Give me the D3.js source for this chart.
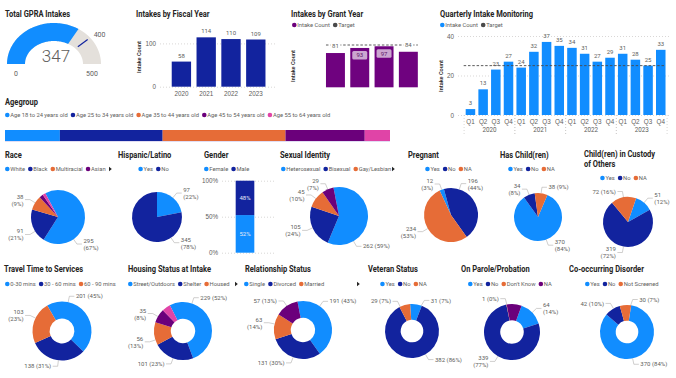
<!DOCTYPE html>
<html>
<head>
<meta charset="utf-8">
<script src="https://cdn.jsdelivr.net/npm/d3@7"></script>
<style>
  body { margin: 0; background: #fff; }
  svg { display: block; font-family: Roboto, "Liberation Sans", sans-serif; }
  .title { font-family: Roboto, sans-serif; font-weight: bold; font-size: 9.4px; fill: #252423; }
  .leg { font-size: 5.8px; fill: #605E5C; }
  .lbl { font-size: 6px; fill: #605E5C; }
  .ytitle { font-size: 5.6px; fill: #252423; font-weight: 500; }
</style>
</head>
<body>
<svg id="chart" width="676" height="378"></svg>
<script>
// ---- data ----
const gaugeValue = 347, gaugeTarget = 400, gaugeMax = 500;

const fiscalYears = ["2020", "2021", "2022", "2023"];
const fiscalCounts = [58, 114, 110, 109];

const grantYears = ["Year 1", "Year 2", "Year 3", "Year 4"];
const grantCounts = [81, 93, 97, 84];
const grantTarget = 100;

const quarterNames = ["Q1", "Q2", "Q3", "Q4"];
const quarterYears = ["2020", "2021", "2022", "2023"];
const quarterCounts = [3, 13, 23, 27, 24, 32, 37, 35, 34, 31, 27, 29, 31, 28, 25, 33];
const quarterTarget = 25;

const ageGroups = ["Age 18 to 24 years old", "Age 25 to 34 years old", "Age 35 to 44 years old", "Age 45 to 54 years old", "Age 55 to 64 years old"];
const ageCounts = [63, 118, 141, 91, 29];

const raceCats = ["White", "Black", "Multiracial", "Asian", "Other"];
const raceCounts = [295, 91, 38, 10, 8];
const hispanicCats = ["Yes", "No"];
const hispanicCounts = [97, 345];
const genderCats = ["Female", "Male"];
const genderCounts = [231, 211];
const sexualCats = ["Heterosexual", "Bisexual", "Gay/Lesbian", "Other"];
const sexualCounts = [262, 105, 45, 29];
const pregnantCats = ["Yes", "No", "NA"];
const pregnantCounts = [12, 196, 234];
const childCats = ["Yes", "No", "NA"];
const childCounts = [370, 34, 38];
const custodyCats = ["Yes", "No", "NA"];
const custodyCounts = [51, 319, 72];

const travelCats = ["0-30 mins", "30 - 60 mins", "60 - 90 mins"];
const travelCounts = [201, 138, 103];
const housingCats = ["Street/Outdoors", "Shelter", "Housed", "Other", "Unknown"];
const housingCounts = [229, 101, 56, 35, 21];
const relationCats = ["Single", "Divorced", "Married", "Other"];
const relationCounts = [191, 131, 63, 57];
const veteranCats = ["Yes", "No", "NA"];
const veteranCounts = [31, 382, 29];
const paroleCats = ["Yes", "No", "Don't Know", "NA"];
const paroleCounts = [64, 339, 1, 38];
const disorderCats = ["Yes", "No", "Not Screened"];
const disorderCounts = [370, 42, 30];

// ---- helpers ----
const svg = d3.select("#chart");
const pal = ["#118DFF", "#12239E", "#E66C37", "#6B007B", "#E044A7"];
const grey = "#605E5C";
const gridCol = "#C8C6C4";

// titles are squeezed a little to look like the narrow dashboard font
function addTitle(x, y, s) {
  return svg.append("text").attr("class", "title")
    .attr("transform", `translate(${x},${y}) scale(0.8,1)`).text(s);
}

function addArrow(x, y) {
  svg.append("path")
    .attr("d", `M${x},${y - 2.2}L${x + 2.8},${y}L${x},${y + 2.2}Z`)
    .attr("fill", "#252423");
}

function addLegend(x, y, names, colors, center) {
  const g = svg.append("g");
  let w = 0;
  names.forEach((n, i) => {
    g.append("circle").attr("cx", w + 2.3).attr("cy", 0).attr("r", 2.3).attr("fill", colors[i]);
    const t = g.append("text").attr("class", "leg").attr("x", w + 5.3).attr("y", 2).text(n);
    w += 5.3 + t.node().getComputedTextLength() + 3;
  });
  g.attr("transform", `translate(${center ? x - w / 2 : x},${y})`);
}

function yAxis(x, scale, ticks, width, fmt) {
  const g = svg.append("g")
    .attr("transform", `translate(${x},0)`)
    .call(d3.axisLeft(scale).tickValues(ticks).tickSize(-width).tickPadding(4).tickFormat(fmt || d3.format("d")));
  g.select(".domain").remove();
  g.selectAll(".tick line").attr("stroke", gridCol).attr("stroke-width", 0.7).attr("stroke-dasharray", "1,2");
  g.selectAll(".tick text").attr("fill", grey).style("font-size", "6.3px");
  return g;
}

function xAxis(y, scale, fmt) {
  const g = svg.append("g")
    .attr("transform", `translate(0,${y})`)
    .call(d3.axisBottom(scale).tickSize(0).tickPadding(4.5).tickFormat(fmt || (d => d)));
  g.select(".domain").remove();
  g.selectAll(".tick text").attr("fill", grey).style("font-size", "6.3px");
  return g;
}

function yTitle(x, y, s) {
  svg.append("text").attr("class", "ytitle")
    .attr("transform", `translate(${x},${y}) rotate(-90)`)
    .attr("text-anchor", "middle").text(s);
}

// ---- gauge ----
addTitle(5, 17, "Total GPRA Intakes");
const gc = [54, 64], gOut = [47, 41], gIn = [29, 23];
const gAngle = d3.scaleLinear().domain([0, gaugeMax]).range([0, Math.PI]);
function gPoint(t, r) {
  const c = -Math.cos(t), s = -Math.sin(t);
  const k = 1 / Math.sqrt(c * c / (r[0] * r[0]) + s * s / (r[1] * r[1]));
  return [gc[0] + c * k, gc[1] + s * k];
}
function gBand(v0, v1) {
  const ts = d3.range(0, 61).map(i => gAngle(v0 + (v1 - v0) * i / 60));
  const pts = ts.map(t => gPoint(t, gOut)).concat(ts.slice().reverse().map(t => gPoint(t, gIn)));
  return d3.line()(pts) + "Z";
}
svg.append("path").attr("d", gBand(0, gaugeMax)).attr("fill", "#E4E0DB");
svg.append("path").attr("d", gBand(0, gaugeValue)).attr("fill", pal[0]);
const tA = gPoint(gAngle(gaugeTarget), [gIn[0] + 3, gIn[1] + 3]);
const tB = gPoint(gAngle(gaugeTarget), [gOut[0] - 3, gOut[1] - 3]);
svg.append("line").attr("x1", tA[0]).attr("y1", tA[1]).attr("x2", tB[0]).attr("y2", tB[1])
  .attr("stroke", pal[1]).attr("stroke-width", 1.2);
svg.append("text").attr("x", gc[0] + 2).attr("y", 62).attr("text-anchor", "middle")
  .style("font-size", "17px").style("font-weight", 300).attr("fill", grey).text(gaugeValue);
svg.append("text").attr("x", gPoint(0, gOut)[0] + 9).attr("y", 75.5).attr("text-anchor", "middle")
  .style("font-size", "7px").attr("fill", grey).text(0);
svg.append("text").attr("x", gPoint(Math.PI, gOut)[0] - 9).attr("y", 75.5).attr("text-anchor", "middle")
  .style("font-size", "7px").attr("fill", grey).text(gaugeMax);
svg.append("text").attr("x", tB[0] + 6).attr("y", 37).style("font-size", "7px").attr("fill", grey).text(gaugeTarget);

// ---- intakes by fiscal year ----
addTitle(136, 17, "Intakes by Fiscal Year");
const fx = d3.scaleBand().domain(fiscalYears).range([169, 268.2]).paddingInner(0.22).paddingOuter(0.11);
const fy = d3.scaleLinear().domain([0, 100]).range([86.7, 43.4]);
yAxis(160, fy, [0, 100], 117);
xAxis(86.7, fx);
yTitle(141, 57, "Intake Count");
svg.append("g").selectAll("rect").data(fiscalCounts).join("rect")
  .attr("x", (d, i) => fx(fiscalYears[i])).attr("width", fx.bandwidth())
  .attr("y", d => fy(d)).attr("height", d => fy(0) - fy(d)).attr("fill", pal[1]);
svg.append("g").selectAll("text").data(fiscalCounts).join("text")
  .attr("x", (d, i) => fx(fiscalYears[i]) + fx.bandwidth() / 2).attr("y", d => fy(d) - 4)
  .attr("text-anchor", "middle").attr("class", "lbl").text(d => d);

// ---- intakes by grant year ----
addTitle(291, 17, "Intakes by Grant Year");
addLegend(292, 25, ["Intake Count", "Target"], [pal[3], "#4A4A4A"]);
svg.append("clipPath").attr("id", "grantClip").append("rect").attr("x", 280).attr("y", 30).attr("width", 139).attr("height", 80);
const gx = d3.scaleBand().domain(grantYears).range([323.3, 420.5]).paddingInner(0.22).paddingOuter(0.11);
const gy = d3.scaleLinear().domain([0, 100]).range([87.3, 45]);
yAxis(315, gy, [0, 50, 100], 110).attr("clip-path", "url(#grantClip)");
xAxis(87.3, gx).attr("clip-path", "url(#grantClip)");
yTitle(295, 66, "Intake Count");
const grantG = svg.append("g").attr("clip-path", "url(#grantClip)");
grantG.selectAll("rect.bar").data(grantCounts).join("rect").attr("class", "bar")
  .attr("x", (d, i) => gx(grantYears[i])).attr("width", gx.bandwidth())
  .attr("y", d => gy(d)).attr("height", d => gy(0) - gy(d)).attr("fill", "#6F027F");
grantG.append("line")
  .attr("x1", gx(grantYears[0])).attr("x2", gx(grantYears[3]) + gx.bandwidth())
  .attr("y1", gy(grantTarget)).attr("y2", gy(grantTarget))
  .attr("stroke", "#4A4A4A").attr("stroke-width", 0.9).attr("stroke-dasharray", "2.5,1.8");
grantCounts.forEach((d, i) => {
  const cx = gx(grantYears[i]) + gx.bandwidth() / 2;
  if (d >= grantTarget * 0.9) {
    grantG.append("rect").attr("x", cx - 7.5).attr("y", gy(d) + 3).attr("width", 15).attr("height", 8.5)
      .attr("rx", 1.5).attr("fill", "#CBA6D0");
    grantG.append("text").attr("x", cx).attr("y", gy(d) + 9.4).attr("text-anchor", "middle")
      .attr("class", "lbl").style("fill", "#5A1466").text(d);
  } else {
    grantG.append("rect").attr("x", cx - 5).attr("y", gy(d) - 10.5).attr("width", 10).attr("height", 7).attr("fill", "#fff");
    grantG.append("text").attr("x", cx).attr("y", gy(d) - 5).attr("text-anchor", "middle").attr("class", "lbl").text(d);
  }
});

// ---- quarterly intake monitoring ----
addTitle(440, 17, "Quarterly Intake Monitoring");
addLegend(440, 25, ["Intake Count", "Target"], [pal[0], "#4A4A4A"]);
const qIdx = d3.range(quarterCounts.length);
const qx = d3.scaleBand().domain(qIdx).range([464.1, 667.1]).paddingInner(0.25).paddingOuter(0.125);
const qy = d3.scaleLinear().domain([0, 40]).range([115, 36]);
yAxis(458, qy, [0, 20, 40], 212);
xAxis(115, qx, i => quarterNames[i % 4]);
yTitle(443, 76, "Intake Count");
svg.append("g").selectAll("rect").data(quarterCounts).join("rect")
  .attr("x", (d, i) => qx(i)).attr("width", qx.bandwidth())
  .attr("y", d => qy(d)).attr("height", d => qy(0) - qy(d)).attr("fill", pal[0]);
svg.append("line")
  .attr("x1", qx(0) - 2).attr("x2", qx(15) + qx.bandwidth())
  .attr("y1", qy(quarterTarget)).attr("y2", qy(quarterTarget))
  .attr("stroke", "#4A4A4A").attr("stroke-width", 0.9).attr("stroke-dasharray", "2.5,1.8");
svg.append("g").selectAll("text").data(quarterCounts).join("text")
  .attr("x", (d, i) => qx(i) + qx.bandwidth() / 2).attr("y", d => qy(d) - 4)
  .attr("text-anchor", "middle").attr("class", "lbl").text(d => d);
const qStep = qx.step();
quarterYears.forEach((yr, k) => {
  const x0 = qx(k * 4) - qStep * 0.125, x1 = qx(k * 4 + 3) + qx.bandwidth() + qStep * 0.125;
  svg.append("text").attr("x", (x0 + x1) / 2).attr("y", 131.5).attr("text-anchor", "middle")
    .style("font-size", "6.3px").attr("fill", grey).text(yr);
  [x0, x1].forEach(x => svg.append("line").attr("x1", x).attr("x2", x).attr("y1", 115).attr("y2", 134)
    .attr("stroke", gridCol).attr("stroke-width", 0.7).attr("stroke-dasharray", "1,2"));
});

// ---- age group ----
addTitle(5, 105, "Agegroup");
addLegend(5, 115, ageGroups, pal);
const ageX = d3.scaleLinear().domain([0, d3.sum(ageCounts)]).range([5, 390]);
const ageStart = [0].concat(Array.from(d3.cumsum(ageCounts)).slice(0, -1));
svg.append("g").selectAll("rect").data(ageCounts).join("rect")
  .attr("x", (d, i) => ageX(ageStart[i])).attr("width", d => ageX(d) - ageX(0))
  .attr("y", 130).attr("height", 11).attr("fill", (d, i) => pal[i]);
svg.append("line").attr("x1", 5).attr("x2", 390).attr("y1", 141.5).attr("y2", 141.5)
  .attr("stroke", "#D9D4F0").attr("stroke-width", 0.8);

// ---- pies ----
// cfg.at: optional label direction (degrees clockwise from 12 o'clock) per slice
function drawPie(cfg) {
  const total = d3.sum(cfg.vals);
  const a0 = cfg.start * Math.PI / 180;
  const arcs = d3.pie().sort(null).startAngle(a0).endAngle(a0 + 2 * Math.PI)(cfg.vals);
  const arc = d3.arc().innerRadius(cfg.r * (cfg.inner || 0)).outerRadius(cfg.r);
  const g = svg.append("g").attr("transform", `translate(${cfg.cx},${cfg.cy})`);
  g.selectAll("path").data(arcs).join("path").attr("d", arc).attr("fill", (d, i) => pal[i]);
  arcs.forEach((d, i) => {
    const mode = cfg.modes[i];
    if (!mode) return;
    const mid = (d.startAngle + d.endAngle) / 2;
    const over = cfg.at && cfg.at[i] != null ? cfg.at[i] * Math.PI / 180 : null;
    let la = over == null ? mid : over;
    // keep label direction on the same turn as the slice
    while (la - mid > Math.PI) la -= 2 * Math.PI;
    while (mid - la > Math.PI) la += 2 * Math.PI;
    const pa = Math.max(d.startAngle + 0.02, Math.min(d.endAngle - 0.02, la));
    const right = Math.sin(la) >= 0;
    const p1 = [Math.sin(pa) * cfg.r, -Math.cos(pa) * cfg.r];
    const p2 = [Math.sin(la) * (cfg.r + 6), -Math.cos(la) * (cfg.r + 6)];
    const p3 = [p2[0] + (right ? 5 : -5), p2[1]];
    g.append("polyline").attr("points", [p1, p2, p3].map(p => p.join(",")).join(" "))
      .attr("fill", "none").attr("stroke", "#A19F9D").attr("stroke-width", 0.5);
    const pct = Math.round(d.value / total * 100);
    const tx = p3[0] + (right ? 1.5 : -1.5);
    const t = g.append("text").attr("class", "lbl").attr("text-anchor", right ? "start" : "end");
    if (mode === 1) {
      t.attr("x", tx).attr("y", p3[1] + 2.1).text(`${d.value} (${pct}%)`);
    } else {
      t.append("tspan").attr("x", tx).attr("y", p3[1] - 1).text(d.value);
      t.append("tspan").attr("x", tx).attr("y", p3[1] + 6).text(`(${pct}%)`);
    }
  });
}

// row 2
addTitle(5, 158, "Race");
addLegend(5, 169, raceCats.slice(0, 4), pal);
addArrow(109, 169);
drawPie({ vals: raceCounts, cx: 58, cy: 217, r: 27, start: -28, modes: [2, 2, 2, 0, 0], at: [145, 238] });

addTitle(118, 158, "Hispanic/Latino");
addLegend(155, 169, hispanicCats, pal, true);
drawPie({ vals: hispanicCounts, cx: 157, cy: 217, r: 25, start: 0, modes: [2, 2], at: [null, 146] });

addTitle(204, 158, "Gender");
addLegend(204, 169, genderCats, pal);
const sx = d3.scaleBand().domain(["Gender"]).range([227.7, 262.3]).paddingInner(0.3).paddingOuter(0.3);
const sy = d3.scaleLinear().domain([0, 1]).range([252.7, 180.7]);
yAxis(222, sy, [0, 0.5, 1], 53, d3.format(".0%"));
const gTotal = d3.sum(genderCounts);
const gStart = [0].concat(Array.from(d3.cumsum(genderCounts)).slice(0, -1));
genderCounts.forEach((v, i) => {
  const y0 = sy(gStart[i] / gTotal), y1 = sy((gStart[i] + v) / gTotal);
  svg.append("rect").attr("x", sx("Gender")).attr("width", sx.bandwidth())
    .attr("y", y1).attr("height", y0 - y1).attr("fill", pal[i]);
  svg.append("text").attr("x", sx("Gender") + sx.bandwidth() / 2).attr("y", (y0 + y1) / 2 + 2.2)
    .attr("text-anchor", "middle").style("font-size", "6px").attr("fill", "#E6E9F7")
    .text(Math.round(v / gTotal * 100) + "%");
});

addTitle(280, 158, "Sexual Identity");
addLegend(281, 169, sexualCats.slice(0, 3), pal);
addArrow(392, 169);
drawPie({ vals: sexualCounts, cx: 339, cy: 216, r: 29, start: -11, modes: [1, 2, 2, 2], at: [150] });

addTitle(408, 158, "Pregnant");
addLegend(450, 169, pregnantCats, pal, true);
drawPie({ vals: pregnantCounts, cx: 451, cy: 215, r: 27, start: -25, modes: [2, 2, 2], at: [null, 18] });

addTitle(500, 158, "Has Child(ren)");
addLegend(533, 169, childCats, pal, true);
drawPie({ vals: childCounts, cx: 538, cy: 217, r: 24, start: 23, modes: [2, 2, 1], at: [160] });

addTitle(584, 157, "Child(ren) in Custody");
addTitle(584, 167, "of Others");
addLegend(625, 178, custodyCats, pal, true);
drawPie({ vals: custodyCounts, cx: 628, cy: 222, r: 25, start: 19, modes: [2, 2, 1] });

// row 3
addTitle(4, 272, "Travel Time to Services");
addLegend(5, 284, travelCats, pal);
drawPie({ vals: travelCounts, cx: 62, cy: 331, r: 29.5, inner: 0.42, start: -30, modes: [1, 1, 2], at: [12, 187, 296] });

addTitle(128, 272, "Housing Status at Intake");
addLegend(128, 284, housingCats.slice(0, 3), pal);
addArrow(235, 284);
drawPie({ vals: housingCounts, cx: 183, cy: 331, r: 29, inner: 0.42, start: -27, modes: [1, 1, 2, 2, 0], at: [18, 200, 252, 300] });

addTitle(245, 272, "Relationship Status");
addLegend(244, 284, relationCats.slice(0, 3), pal);
addArrow(357, 284);
drawPie({ vals: relationCounts, cx: 303, cy: 330, r: 29, inner: 0.42, start: -11, modes: [1, 1, 2, 1], at: [35, 200, 282, 326] });

addTitle(368, 272, "Veteran Status");
addLegend(405, 284, veteranCats, pal, true);
drawPie({ vals: veteranCounts, cx: 412, cy: 331, r: 27, inner: 0.42, start: -4, modes: [1, 1, 1], at: [22, 150, 334] });

addTitle(461, 272, "On Parole/Probation");
addLegend(468, 284, paroleCats, pal);
drawPie({ vals: paroleCounts, cx: 512, cy: 332, r: 28, inner: 0.42, start: 20, modes: [2, 2, 1, 0] });

addTitle(569, 272, "Co-occurring Disorder");
addLegend(585, 284, disorderCats, pal);
drawPie({ vals: disorderCounts, cx: 627, cy: 332, r: 27, inner: 0.42, start: 9, modes: [1, 1, 1], at: [168, 330, 10] });
</script>
</body>
</html>
